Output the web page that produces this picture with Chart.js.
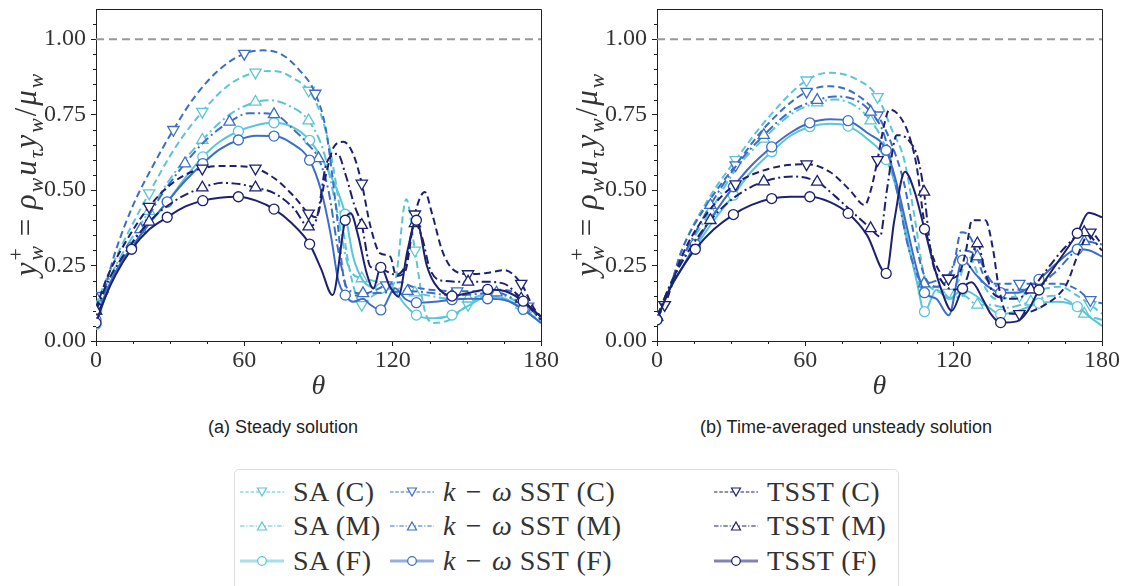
<!DOCTYPE html>
<html><head><meta charset="utf-8">
<script src="https://cdn.jsdelivr.net/npm/chart.js@4.4.0/dist/chart.umd.min.js"></script>
<style>
body{margin:0;width:1125px;height:586px;overflow:hidden;background:#fff;position:relative;font-family:"Liberation Serif",serif;}
canvas{position:absolute;top:0}
#c1{left:0}
#c2{left:561px}
.cap{position:absolute;font-family:"Liberation Sans",Arial,sans-serif;font-size:18px;color:#222;top:417px;white-space:nowrap;transform:translateX(-50%)}
#legend{position:absolute;left:234px;top:469px;width:665px;height:140px;border:1px solid #ddd;border-radius:5px;box-sizing:border-box}
.item{position:absolute;height:30px;display:flex;align-items:center;font-size:28px;letter-spacing:0.5px;color:#333;white-space:nowrap}
.item svg{margin-right:9px;flex:none}
</style></head><body>
<canvas id="c1" width="560" height="400"></canvas>
<canvas id="c2" width="564" height="400"></canvas>
<div class="cap" style="left:283px">(a) Steady solution</div>
<div class="cap" style="left:846px">(b) Time-averaged unsteady solution</div>
<div id="legend"></div>
<script>
// ---------- Panel (a): steady solution ----------
const thA_SA_C = [0,5,10,21.5,32,43,54,64.5,72,80,86,91,95,99,103,107.5,112,117,121,125.5,129,133,136.5,143,150.5,158,165,172,177,180];
const yA_SA_C  = [0.12,0.22,0.31,0.49,0.64,0.76,0.85,0.89,0.895,0.87,0.83,0.75,0.62,0.42,0.22,0.12,0.15,0.17,0.2,0.47,0.3,0.1,0.06,0.07,0.12,0.15,0.14,0.11,0.08,0.06];
const thA_SA_M = [0,5,10,21.5,32,43,54,64.5,70,78,86,92,97,102,107.5,112,118,125,129,135,143,150.5,158,165,172,180];
const yA_SA_M  = [0.11,0.2,0.28,0.43,0.56,0.666,0.75,0.792,0.798,0.78,0.73,0.63,0.45,0.25,0.207,0.2,0.18,0.17,0.16,0.15,0.14,0.14,0.155,0.15,0.12,0.06];
const thA_SA_F = [0,4,8,14.4,21.6,28.8,36,43.2,50,57.6,64.8,72,79.2,86.4,93.6,100.8,104,108,111,115.2,120,125,129.6,136.8,144,151.2,158.4,165.6,172.8,180];
const yA_SA_F  = [0.055,0.15,0.23,0.31,0.39,0.46,0.54,0.61,0.66,0.695,0.715,0.723,0.71,0.665,0.57,0.42,0.28,0.2,0.18,0.174,0.17,0.12,0.086,0.075,0.086,0.12,0.147,0.14,0.105,0.06];
const thA_SST_C = [0,2.6,8,15,23,31.3,40,50,60,67.5,75,82,88.7,93,97,100,103,108,112,117.4,123,128,135,146.1,155,163,168,174.8,180];
const yA_SST_C  = [0.1,0.15,0.3,0.45,0.58,0.70,0.81,0.9,0.952,0.963,0.95,0.9,0.82,0.7,0.45,0.22,0.15,0.155,0.165,0.185,0.195,0.18,0.17,0.165,0.165,0.17,0.165,0.115,0.07];
const thA_SST_M = [0,6,12,18,27,36,45,54,62,72,80,86,90,94,98,102,108,116,126,135,144,153,162,171,180];
const yA_SST_M  = [0.1,0.2,0.29,0.37,0.49,0.588,0.67,0.726,0.755,0.751,0.7,0.65,0.605,0.5,0.3,0.17,0.158,0.16,0.165,0.16,0.15,0.155,0.16,0.13,0.08];
const thA_SST_F = [0,4,8,14.4,21.6,28.8,36,43.2,50,57.6,64.8,72,79.2,86.4,91,95,98,100.8,104,108,111,115.2,121,125,129.6,136.8,144,151.2,158.4,165.6,172.8,180];
const yA_SST_F  = [0.07,0.16,0.23,0.31,0.39,0.461,0.53,0.588,0.635,0.666,0.68,0.679,0.655,0.599,0.5,0.35,0.2,0.152,0.13,0.14,0.12,0.103,0.175,0.14,0.127,0.13,0.137,0.14,0.14,0.135,0.105,0.06];
const thA_TSST_C = [0,5,10,21.5,32,43,54,64.5,72,80,86,89,93,96,100,104,107.5,111,115,119,121.5,125,129,133,136,140,144,150.5,158,165,172,177,180];
const yA_TSST_C  = [0.11,0.22,0.3,0.445,0.53,0.572,0.58,0.572,0.54,0.48,0.423,0.41,0.55,0.64,0.66,0.62,0.522,0.38,0.29,0.28,0.215,0.23,0.42,0.494,0.42,0.3,0.24,0.222,0.225,0.235,0.19,0.11,0.08];
const thA_TSST_M = [0,5,10,21.5,32,43,51.5,58,64.5,72,80,86,89.3,93.3,97.7,101,104.5,107.5,111,116,121,125,129,132,135,140,150.5,158,165,172,180];
const yA_TSST_M  = [0.1,0.2,0.27,0.395,0.465,0.508,0.524,0.52,0.508,0.49,0.44,0.379,0.407,0.59,0.62,0.55,0.45,0.384,0.246,0.235,0.22,0.25,0.39,0.34,0.24,0.2,0.196,0.196,0.19,0.14,0.07];
const thA_TSST_F = [0,4,8,14.4,21.6,28.8,36,43.2,50,57.6,64.8,72,79.2,86.4,91,95.7,100.8,103,106,109.5,112.2,115.2,118.9,122.3,126,129.6,133.8,137,144,151.2,158.4,165.6,172.8,180];
const yA_TSST_F  = [0.06,0.15,0.22,0.304,0.37,0.41,0.445,0.465,0.475,0.478,0.465,0.437,0.39,0.321,0.24,0.152,0.40,0.423,0.35,0.224,0.174,0.244,0.18,0.147,0.3,0.4,0.25,0.19,0.149,0.16,0.171,0.165,0.132,0.08];

// ---------- Panel (b): time-averaged unsteady solution ----------
const thB_SA_C = [0,3.1,10,20,31.8,45,60.5,70,80,89.2,95,100,104,108,112,117.9,122,126,131,137,146.6,155,163,170,175.3,180];
const yB_SA_C  = [0.08,0.12,0.3,0.46,0.6,0.74,0.864,0.889,0.87,0.809,0.7,0.6,0.42,0.22,0.17,0.16,0.2,0.28,0.2,0.14,0.15,0.17,0.18,0.15,0.12,0.09];
const thB_SA_M = [0,5,10,21.6,32,43.2,54,64.8,72,80,86.4,92,97,102,108,113,119,124,129.6,135,141,151.2,160,167,172.8,180];
const yB_SA_M  = [0.08,0.18,0.27,0.43,0.57,0.67,0.75,0.79,0.8,0.78,0.73,0.65,0.5,0.3,0.17,0.18,0.14,0.15,0.12,0.12,0.11,0.13,0.15,0.13,0.09,0.07];
const thB_SA_F = [0,5,10,15.5,23,30.9,38,46.4,54,61.8,70,77.3,85,92.7,97,101,105,108.2,113,118,123.6,129,133,139,146,154.5,162,170,175,180];
const yB_SA_F  = [0.07,0.17,0.24,0.31,0.4,0.483,0.56,0.627,0.68,0.71,0.72,0.712,0.67,0.601,0.5,0.35,0.2,0.097,0.17,0.14,0.17,0.15,0.12,0.089,0.1,0.125,0.13,0.114,0.08,0.05];
const thB_SST_C = [0,3.1,10,20,31.8,45,60.5,70,80,89.2,95,100,104,108,113,117.9,120,123,127,132,137,146.6,155,163,170,175.3,180];
const yB_SST_C  = [0.08,0.12,0.3,0.45,0.583,0.72,0.826,0.844,0.82,0.748,0.65,0.52,0.35,0.22,0.18,0.207,0.25,0.36,0.34,0.22,0.19,0.19,0.19,0.19,0.17,0.136,0.125];
const thB_SST_M = [0,5,10,21.6,32,43.2,54,64.8,72,80,86.4,92,97,102,108,113,118,123,129.6,135,141,151.2,160,167,172.8,180];
const yB_SST_M  = [0.08,0.18,0.27,0.45,0.58,0.682,0.76,0.798,0.81,0.8,0.759,0.68,0.5,0.3,0.19,0.2,0.22,0.3,0.28,0.2,0.17,0.17,0.22,0.28,0.33,0.32];
const thB_SST_F = [0,5,10,15.5,23,30.9,38,46.4,54,61.8,70,77.3,85,92.7,97,101,105,108.2,113,118,123.6,129,134,139,146,154.5,162,170,175,180];
const yB_SST_F  = [0.07,0.17,0.24,0.32,0.42,0.511,0.58,0.643,0.69,0.723,0.735,0.73,0.69,0.632,0.52,0.38,0.24,0.16,0.14,0.085,0.268,0.22,0.18,0.16,0.16,0.204,0.26,0.304,0.3,0.28];
const thB_TSST_C = [0,3.1,10,20,31.8,45,60.5,70,78,84,86.5,89.2,92,94,98.3,102,105,108,112,117.9,122,125,127.4,132.8,136,138,141.5,146.6,152,157.7,162,165.8,170,175.3,180];
const yB_TSST_C  = [0.08,0.12,0.28,0.42,0.52,0.57,0.586,0.56,0.5,0.45,0.5,0.6,0.72,0.767,0.743,0.68,0.58,0.4,0.27,0.207,0.22,0.3,0.4,0.4,0.3,0.19,0.092,0.09,0.1,0.124,0.15,0.19,0.28,0.36,0.32];
const thB_TSST_M = [0,5,10,21.6,32,43.2,55,64.8,72,80,86.4,90.2,93,97,101.7,105.7,108,111,115,120,125,129.6,133,137,145,151.2,158,165,172.8,180];
const yB_TSST_M  = [0.08,0.18,0.26,0.4,0.48,0.528,0.545,0.527,0.48,0.42,0.373,0.346,0.5,0.682,0.666,0.6,0.494,0.28,0.2,0.17,0.2,0.323,0.22,0.15,0.14,0.17,0.24,0.31,0.36,0.3];
const thB_TSST_F = [0,5,10,15.5,23,30.9,38,46.4,54,61.8,70,77.3,85,92.7,96,100.3,104,108.2,112,115,119.2,123.6,127.3,132,135,139,145.6,150,154.5,162,170,174.6,180];
const yB_TSST_F  = [0.07,0.17,0.24,0.304,0.37,0.419,0.45,0.472,0.478,0.478,0.46,0.423,0.35,0.224,0.4,0.561,0.5,0.371,0.25,0.17,0.1,0.174,0.195,0.135,0.09,0.061,0.065,0.1,0.169,0.26,0.357,0.425,0.41];

const xTicks = [0, 60, 120, 180];
const yTicks = [0, 0.25, 0.5, 0.75, 1.0];
const refLine = 1.0;
const legendLabels = ['SA (C)','SA (M)','SA (F)','<i>k</i>&#8196;−&#8196;<i>ω</i> SST (C)','<i>k</i>&#8196;−&#8196;<i>ω</i> SST (M)','<i>k</i>&#8196;−&#8196;<i>ω</i> SST (F)','TSST (C)','TSST (M)','TSST (F)'];

// ---------- styles ----------
const COLORS = {SA:'#5cc5d8', SST:'#3c6ec6', TSST:'#1d216f'};
const VAR = {
  C:{dash:[7,4], pstyle:'triangle', rot:180, r:6.5},
  M:{dash:[9,3.5,2,3.5], pstyle:'triangle', rot:0, r:6.5},
  F:{dash:[], pstyle:'circle', rot:0, r:5}
};
const FONT = '"Liberation Serif", "Times New Roman", serif';

const panelA = [
  ['SA','C',thA_SA_C,yA_SA_C,21.5,0],['SA','M',thA_SA_M,yA_SA_M,21.5,0],['SA','F',thA_SA_F,yA_SA_F,14.4,0],
  ['SST','C',thA_SST_C,yA_SST_C,28.7,2.6],['SST','M',thA_SST_M,yA_SST_M,18,0],['SST','F',thA_SST_F,yA_SST_F,14.4,0],
  ['TSST','C',thA_TSST_C,yA_TSST_C,21.5,0],['TSST','M',thA_TSST_M,yA_TSST_M,21.5,0],['TSST','F',thA_TSST_F,yA_TSST_F,14.4,0]
];
const panelB = [
  ['SA','C',thB_SA_C,yB_SA_C,28.7,3.1],['SA','M',thB_SA_M,yB_SA_M,21.6,0],['SA','F',thB_SA_F,yB_SA_F,15.45,0],
  ['SST','C',thB_SST_C,yB_SST_C,28.7,3.1],['SST','M',thB_SST_M,yB_SST_M,21.6,0],['SST','F',thB_SST_F,yB_SST_F,15.45,0],
  ['TSST','C',thB_TSST_C,yB_TSST_C,28.7,3.1],['TSST','M',thB_TSST_M,yB_TSST_M,21.6,0],['TSST','F',thB_TSST_F,yB_TSST_F,15.45,0]
];

function isMarker(t, step, start){
  if (t > 178) return false;
  const k = (t - start) / step;
  return k > -0.01 && Math.abs(k - Math.round(k)) < 0.02;
}

function buildDatasets(panel){
  const ds = panel.map((p, idx) => {
    const [model, v, th, ys, step, start] = p;
    const st = VAR[v], col = COLORS[model];
    return {
      data: th.map((t,i)=>({x:t, y:ys[i]})),
      borderColor: col, borderWidth: 2, borderDash: st.dash,
      pointStyle: st.pstyle, pointRotation: st.rot,
      pointRadius: th.map(t => isMarker(t, step, start) ? st.r : 0),
      pointHoverRadius: 0,
      pointBackgroundColor: '#fff', pointBorderColor: col, pointBorderWidth: 1.3,
      cubicInterpolationMode: 'monotone', fill: false,
      order: 8 - idx
    };
  });
  ds.push({data:[{x:xTicks[0],y:refLine},{x:xTicks[xTicks.length-1],y:refLine}], borderColor:'#999', borderWidth:2,
    borderDash:[8,5], pointRadius:0, order:100});
  return ds;
}

function drawYTitle(ctx, cx, cy, size, gap){
  const tokens = [
    {t:'y',it:1},{t:'+',sup:1},{t:'w',sub:1,it:1},{t:' = '},
    {t:'ρ',it:1},{t:'w',sub:1,it:1},{t:'u',it:1},{t:'τ',sub:1,it:1},
    {t:'y',it:1},{t:'w',sub:1,it:1},{t:'/'},{t:'μ',it:1},{t:'w',sub:1,it:1}
  ];
  function run(draw){
    let x = 0, stackX = null, stackW = 0;
    for (const tk of tokens){
      const s = (tk.sub||tk.sup) ? size*0.7 : size;
      ctx.font = (tk.it ? 'italic ' : '') + s + 'px ' + FONT;
      const w = ctx.measureText(tk.t).width;
      const dy = tk.sup ? -size*0.42 : (tk.sub ? size*0.24 : 0);
      let px = x;
      if (tk.sub && stackX !== null) px = stackX;
      if (draw) ctx.fillText(tk.t, px, dy);
      if (tk.sup){ stackX = x; stackW = w; x += w; }
      else if (tk.sub && stackX !== null){ x = stackX + Math.max(stackW, w) + gap; stackX = null; }
      else x += w + gap;
    }
    return x - gap;
  }
  ctx.save();
  ctx.translate(cx, cy);
  ctx.rotate(-Math.PI/2);
  ctx.textBaseline = 'alphabetic';
  ctx.fillStyle = '#333';
  const W = run(false);
  ctx.translate(-W/2, 0);
  run(true);
  ctx.restore();
}

const framePlugin = {
  id:'frame',
  afterDraw(chart){
    const {ctx, chartArea:ca, scales:{x, y}} = chart;
    ctx.save();
    ctx.strokeStyle = '#222'; ctx.lineWidth = 1;
    ctx.beginPath();
    ctx.moveTo(ca.left, Math.round(ca.top)+0.5);
    ctx.lineTo(Math.round(ca.right)+0.5, Math.round(ca.top)+0.5);
    ctx.lineTo(Math.round(ca.right)+0.5, ca.bottom);
    ctx.stroke();
    // minor ticks
    ctx.beginPath();
    for (let k = 1; k <= 21; k++){
      if (k % 5 === 0) continue;
      const py = Math.round(y.getPixelForValue(k*0.05)) + 0.5;
      ctx.moveTo(ca.left - 3, py); ctx.lineTo(ca.left, py);
    }
    for (let k = 1; k < 12; k++){
      if (k % 4 === 0) continue;
      const px = Math.round(x.getPixelForValue(k*15)) + 0.5;
      ctx.moveTo(px, ca.bottom); ctx.lineTo(px, ca.bottom + 3);
    }
    ctx.stroke();
    // x title
    ctx.fillStyle = '#333';
    ctx.font = 'italic 28px ' + FONT;
    ctx.textAlign = 'center'; ctx.textBaseline = 'alphabetic';
    ctx.fillText('θ', (ca.left + ca.right)/2, 394);
    ctx.textAlign = 'left';
    drawYTitle(ctx, 36, (ca.top + ca.bottom)/2, 31, 2);
    ctx.restore();
  }
};

function makeChart(id, panel, padRight){
  return new Chart(document.getElementById(id), {
    type:'line',
    data:{datasets: buildDatasets(panel)},
    options:{
      responsive:false, animation:false, devicePixelRatio:1,
      layout:{padding:{top:9, right:padRight, left:0, bottom:0}},
      plugins:{legend:{display:false}, tooltip:{enabled:false}},
      scales:{
        x:{type:'linear', min:0, max:180,
          afterBuildTicks: s => { s.ticks = xTicks.map(v=>({value:v})); },
          ticks:{font:{family:FONT, size:24}, color:'#333', padding:0, maxRotation:0, autoSkip:false},
          grid:{drawOnChartArea:false, drawTicks:true, tickLength:5, tickColor:'#222', tickWidth:1},
          border:{display:true, color:'#222', width:1},
          afterFit: s => { s.height = 59; s.paddingLeft = 0; s.paddingRight = 0; }
        },
        y:{type:'linear', min:0, max:1.1,
          afterBuildTicks: s => { s.ticks = yTicks.map(v=>({value:v})); },
          ticks:{font:{family:FONT, size:24}, color:'#333', padding:5, autoSkip:false,
            callback: v => Number(v).toFixed(2)},
          grid:{drawOnChartArea:false, drawTicks:true, tickLength:5, tickColor:'#222', tickWidth:1},
          border:{display:true, color:'#222', width:1},
          afterFit: s => { s.width = 96; s.paddingTop = 0; s.paddingBottom = 0; }
        }
      }
    },
    plugins:[framePlugin]
  });
}

Chart.defaults.font.family = FONT;
makeChart('c1', panelA, 19);
makeChart('c2', panelB, 23);

// ---------- legend ----------
const leg = document.getElementById('legend');
const colX = [5, 155, 479];
const rowY = [7, 41, 76];
panelA.forEach((p, i) => {
  const [model, v] = p;
  const col = COLORS[model];
  const c = Math.floor(i/3), r = i % 3;
  let line, mk;
  if (v === 'C') line = `<line x1="0" y1="10" x2="44" y2="10" stroke="${col}" stroke-width="1.2" stroke-dasharray="3.5,1.8"/>`;
  else if (v === 'M') line = `<line x1="0" y1="10" x2="44" y2="10" stroke="${col}" stroke-width="1.2" stroke-dasharray="4.5,1.8,1.2,1.8"/>`;
  else line = `<line x1="0" y1="10" x2="44" y2="10" stroke="${col}" stroke-width="3" stroke-opacity="0.55"/>`;
  if (v === 'C') mk = `<polygon points="17.5,6 26.5,6 22,14" fill="#fff" stroke="${col}" stroke-width="1.2"/>`;
  else if (v === 'M') mk = `<polygon points="17.5,14 26.5,14 22,6" fill="#fff" stroke="${col}" stroke-width="1.2"/>`;
  else mk = `<circle cx="22" cy="10" r="4.3" fill="#fff" stroke="${col}" stroke-width="1.2"/>`;
  const d = document.createElement('div');
  d.className = 'item';
  d.style.left = colX[c] + 'px'; d.style.top = rowY[r] + 'px';
  d.innerHTML = `<svg width="44" height="20">${line}${mk}</svg><span>${legendLabels[i]}</span>`;
  leg.appendChild(d);
});
</script>
</body></html>
